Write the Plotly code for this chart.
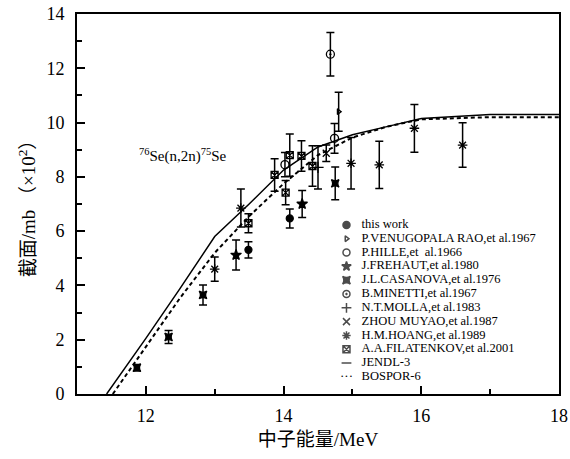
import plotly.graph_objects as go

# ---------------- data ----------------
this_e = [13.49, 14.09]
this_v = [5.31, 6.47]
this_err = [0.30, 0.35]

venu_e = [14.80]
venu_v = [10.40]
venu_err = [0.72]

hille_e = [14.02, 14.74]
hille_v = [8.45, 9.42]
hille_err = [0.45, 0.55]

frehaut_e = [13.31, 14.27]
frehaut_v = [5.12, 7.00]
frehaut_err = [0.55, 0.50]

casanova_e = [11.87, 12.33, 12.83, 14.75]
casanova_v = [0.97, 2.10, 3.65, 7.76]
casanova_err = [0.12, 0.24, 0.37, 0.60]

minetti_e = [14.68]
minetti_v = [12.52]
minetti_err = [0.80]

molla_e = [14.50]
molla_v = [8.35]
molla_err = [0.80]

zhou_e = [14.62]
zhou_v = [8.87]
zhou_err = [0.30]

hoang_e = [13.00, 13.38, 14.98, 15.39, 15.90, 16.60]
hoang_v = [4.60, 6.85, 8.50, 8.44, 9.79, 9.17]
hoang_err = [0.45, 0.70, 0.95, 0.87, 0.88, 0.82]

filat_e = [13.49, 13.87, 14.03, 14.09, 14.26, 14.42]
filat_v = [6.29, 8.07, 7.42, 8.80, 8.77, 8.40]
filat_err = [0.35, 0.60, 0.45, 0.78, 0.56, 0.75]

jendl_e = [11.43, 12.0, 12.5, 13.0, 13.5, 14.0, 14.5, 15.0, 15.5, 16.0, 17.0, 18.0]
jendl_v = [0.0, 2.05, 3.90, 5.80, 7.00, 8.25, 9.10, 9.55, 9.85, 10.15, 10.30, 10.30]

bospor_e = [11.52, 12.0, 12.5, 13.0, 13.5, 14.0, 14.5, 15.0, 15.5, 16.0, 17.0, 18.0]
bospor_v = [0.0, 1.75, 3.55, 5.20, 6.55, 7.75, 8.80, 9.45, 9.85, 10.12, 10.20, 10.20]

legend_labels = [
    "this work",
    "P.VENUGOPALA RAO,et al.1967",
    "P.HILLE,et  al.1966",
    "J.FREHAUT,et al.1980",
    "J.L.CASANOVA,et al.1976",
    "B.MINETTI,et al.1967",
    "N.T.MOLLA,et al.1983",
    "ZHOU MUYAO,et al.1987",
    "H.M.HOANG,et al.1989",
    "A.A.FILATENKOV,et al.2001",
    "JENDL-3",
    "BOSPOR-6",
]

x_ticks = [12, 14, 16, 18]
y_ticks = [0, 2, 4, 6, 8, 10, 12, 14]

# ---------------- styles ----------------
series = [
    (this_e, this_v, this_err, "circle", 7),
    (venu_e, venu_v, venu_err, "triangle-right-open", 5),
    (hille_e, hille_v, hille_err, "circle-open", 8),
    (frehaut_e, frehaut_v, frehaut_err, "star", 8),
    (casanova_e, casanova_v, casanova_err, "star-square", 7),
    (minetti_e, minetti_v, minetti_err, "circle-open-dot", 8),
    (molla_e, molla_v, molla_err, "cross-thin-open", 8),
    (zhou_e, zhou_v, zhou_err, "x-thin-open", 7),
    (hoang_e, hoang_v, hoang_err, "asterisk-open", 8),
    (filat_e, filat_v, filat_err, "square-x-open", 7),
]

serif = "Liberation Serif"
mixed = "Liberation Serif, Noto Sans CJK SC"

fig = go.Figure()

fig.add_trace(go.Scatter(x=jendl_e, y=jendl_v, mode="lines",
                         line=dict(color="black", width=1.5), showlegend=False))
fig.add_trace(go.Scatter(x=bospor_e, y=bospor_v, mode="lines",
                         line=dict(color="black", width=2, dash="4px,3px"), showlegend=False))

for e, v, err, sym, size in series:
    fig.add_trace(go.Scatter(
        x=e, y=v, mode="markers",
        marker=dict(symbol=sym, size=size, color="black",
                    line=dict(color="black", width=1.3)),
        error_y=dict(type="data", array=err, visible=True, color="black",
                     thickness=1.5, width=4),
        showlegend=False))

# ---------------- custom compact legend on its own axes ----------------
n = len(legend_labels)
leg_syms = [s[3] for s in series] + ["line-ew-open", "line-ew-open"]
leg_sizes = [min(s[4], 7) for s in series] + [7, 0]
fig.add_trace(go.Scatter(
    x=[0.3] * n, y=list(range(n)), mode="markers",
    marker=dict(symbol=leg_syms, size=leg_sizes, color="black",
                line=dict(color="black", width=1.5)),
    xaxis="x2", yaxis="y2", showlegend=False, hoverinfo="skip"))
fig.add_trace(go.Scatter(
    x=[0.3], y=[n - 1], mode="text", text=["···"],
    textfont=dict(family=serif, size=13, color="black"),
    xaxis="x2", yaxis="y2", showlegend=False, hoverinfo="skip"))
fig.add_trace(go.Scatter(
    x=[1.7] * n, y=list(range(n)), mode="text", text=legend_labels,
    textposition="middle right",
    textfont=dict(family=serif, size=12.5, color="black"),
    xaxis="x2", yaxis="y2", showlegend=False, hoverinfo="skip"))

fig.add_annotation(
    x=0.124, y=0.628, xref="paper", yref="paper", xanchor="left", yanchor="middle",
    text="<sup>76</sup>Se(n,2n)<sup>75</sup>Se", showarrow=False,
    font=dict(family=serif, size=15, color="black"))

axis_common = dict(showline=True, linecolor="black", linewidth=2, mirror=True,
                   ticks="inside", tickwidth=2, ticklen=8, tickcolor="black",
                   showgrid=False, zeroline=False, automargin=False,
                   tickfont=dict(family=serif, size=18, color="black"))

fig.update_layout(
    width=570, height=459,
    margin=dict(l=77, r=11, t=14, b=65),
    paper_bgcolor="white", plot_bgcolor="white",
    showlegend=False,
    xaxis=dict(range=[11, 18], tickvals=x_ticks, ticktext=[str(t) for t in x_ticks],
               ticklabelstandoff=4,
               minor=dict(dtick=1, tick0=11, ticks="inside", ticklen=5, tickwidth=2,
                          tickcolor="black", showgrid=False),
               title=dict(text="中子能量/MeV", font=dict(family=mixed, size=19, color="black"),
                          standoff=8),
               **axis_common),
    yaxis=dict(range=[0, 14], tickvals=y_ticks, ticktext=[str(t) for t in y_ticks],
               ticklabelstandoff=7,
               minor=dict(dtick=1, tick0=0, ticks="inside", ticklen=5, tickwidth=2,
                          tickcolor="black", showgrid=False),
               title=dict(text="截面/mb （×10<sup>2</sup>）",
                          font=dict(family=mixed, size=19, color="black"), standoff=6),
               **axis_common),
    xaxis2=dict(domain=[0.53, 1.0], range=[-1, 20], visible=False, anchor="y2",
                fixedrange=True),
    yaxis2=dict(domain=[0.0268, 0.4632], range=[n - 0.5, -0.5], visible=False,
                anchor="x2", fixedrange=True),
)

fig.write_html("out.html")
